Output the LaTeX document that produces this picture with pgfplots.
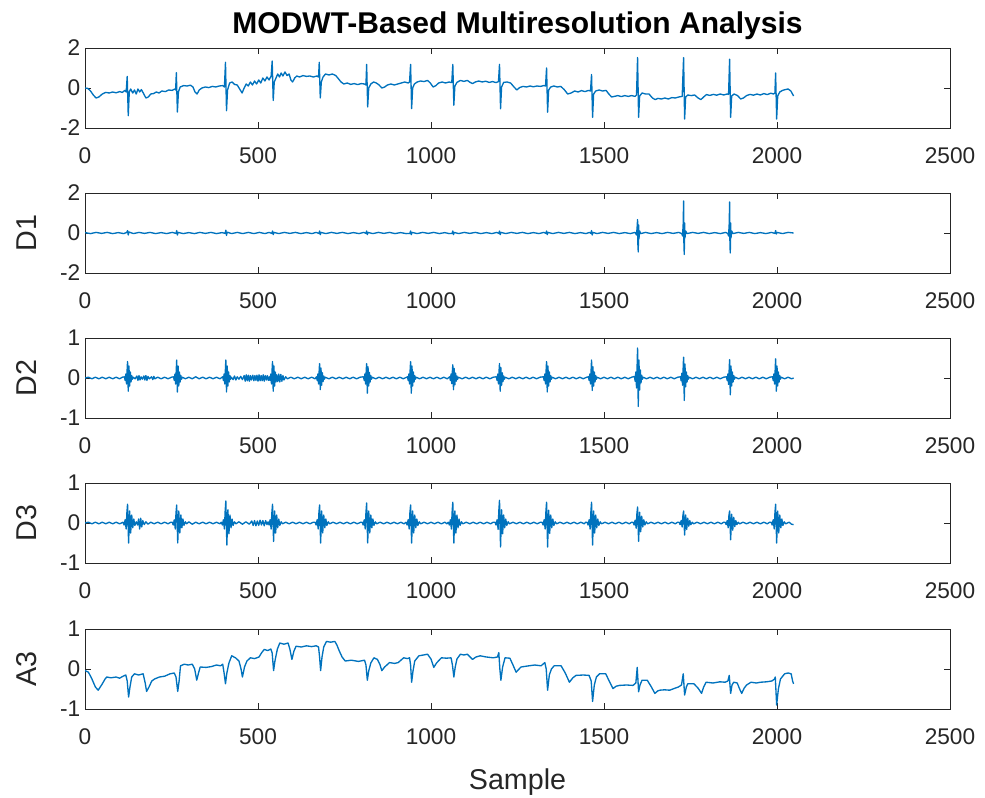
\documentclass[border=0pt]{standalone}
\usepackage{pgfplots}
\pgfplotsset{compat=1.18}
\usepackage{fontspec}
\setmainfont{Liberation Sans}
\definecolor{mblue}{rgb}{0,0.447,0.741}
\definecolor{mgray}{rgb}{0.15,0.15,0.15}
\pgfplotsset{
  mstyle/.style={
    scale only axis, width=648.75pt, height=60pt,
    xmin=0, xmax=2500, xtick={0,500,1000,1500,2000,2500},
    tick align=inside, tick pos=both, ticklabel pos=left,
    major tick length=4.5pt,
    axis line style={draw=mgray, line width=0.6pt},
    every tick/.style={draw=mgray, line width=0.6pt},
    tick label style={font=\fontsize{17}{17}\selectfont, text=mgray},
    label style={font=\fontsize{21.5}{21.5}\selectfont, text=mgray},
    /pgf/number format/assume math mode=true,
    /pgf/number format/1000 sep={},
    scaled ticks=false,
    xticklabel style={yshift=-11pt},
    ylabel style={at={(axis description cs:-0.068,0.5)}, anchor=center, rotate=0},
    xlabel style={yshift=-11pt},
    anchor=north west,
  },
  mline/.style={color=mblue, line width=1pt, no markers, line join=round},
}
\begin{document}
\begin{tikzpicture}
\useasboundingbox (0,0) rectangle (738.75pt,-598.5pt);
% ---------- Original signal ----------
\begin{axis}[mstyle, at={(63.75pt,-36pt)}, ymin=-2, ymax=2, ytick={-2,0,2},
  title={MODWT-Based Multiresolution Analysis},
  title style={font=\bfseries\fontsize{22.5}{22.5}\selectfont, text=black, yshift=-3pt}]
\addplot[mline] coordinates {
(0,0.0)(8,-0.02)(16,-0.15)(24,-0.35)(32,-0.5)(40,-0.45)(50,-0.3)(60,-0.22)(70,-0.25)(80,-0.2)(90,-0.24)(100,-0.18)(108,-0.22)(115,-0.12)(119,-0.2)(122,0.58)(125,-1.38)(128,-0.2)(132,-0.05)(138,-0.25)(143,-0.1)(148,-0.3)(153,-0.05)(158,-0.2)(163,-0.08)(170,-0.3)(176,-0.5)(183,-0.45)(190,-0.3)(198,-0.28)(206,-0.2)(214,-0.25)(222,-0.15)(232,-0.18)(242,-0.1)(252,-0.12)(260,-0.05)(262,-0.1)(264,0.77)(267,-1.2)(270,-0.2)(275,0.05)(285,0.12)(295,0.1)(305,0.14)(312,0.05)(318,-0.2)(324,-0.3)(330,-0.1)(338,0.0)(348,0.05)(358,0.02)(368,0.08)(378,0.05)(388,0.1)(398,0.12)(403,0.05)(406,1.28)(409,-1.13)(412,-0.1)(418,0.25)(425,0.3)(432,0.18)(440,0.15)(447,-0.05)(454,-0.25)(460,0.0)(466,0.2)(472,0.1)(478,0.3)(484,0.15)(490,0.35)(496,0.2)(502,0.4)(508,0.25)(514,0.5)(520,0.35)(526,0.55)(532,0.4)(538,0.6)(541,1.35)(544,-0.62)(547,0.3)(552,0.5)(557,0.7)(562,0.55)(567,0.75)(572,0.6)(578,0.8)(584,0.62)(590,0.7)(595,0.4)(600,0.3)(606,0.5)(612,0.6)(620,0.55)(630,0.62)(640,0.58)(650,0.6)(660,0.55)(670,0.6)(675,0.55)(677,1.28)(680,-0.5)(683,0.3)(688,0.55)(695,0.7)(705,0.65)(715,0.7)(725,0.62)(733,0.45)(740,0.3)(748,0.2)(758,0.25)(768,0.18)(778,0.22)(788,0.17)(798,0.22)(808,0.2)(812,0.15)(814,1.18)(817,-0.95)(820,0.0)(826,0.2)(834,0.3)(842,0.25)(850,0.15)(858,0.0)(866,0.05)(874,0.15)(884,0.2)(894,0.15)(904,0.2)(914,0.25)(924,0.3)(934,0.25)(938,0.3)(941,1.18)(944,-1.03)(947,0.0)(952,0.2)(960,0.3)(970,0.35)(980,0.32)(990,0.38)(998,0.25)(1006,0.05)(1014,0.12)(1022,0.25)(1032,0.3)(1042,0.25)(1052,0.3)(1060,0.27)(1063,1.18)(1066,-0.86)(1069,0.1)(1075,0.28)(1085,0.38)(1095,0.33)(1105,0.38)(1113,0.28)(1120,0.22)(1128,0.3)(1138,0.35)(1148,0.3)(1158,0.34)(1168,0.28)(1178,0.32)(1188,0.27)(1195,0.32)(1198,1.18)(1201,-1.04)(1204,0.05)(1210,0.28)(1220,0.3)(1230,0.25)(1240,0.05)(1248,-0.1)(1256,0.02)(1266,0.08)(1276,0.05)(1286,0.1)(1296,0.06)(1306,0.1)(1316,0.08)(1326,0.12)(1331,0.1)(1334,1.0)(1337,-1.21)(1340,-0.1)(1346,0.05)(1355,0.1)(1365,0.05)(1375,0.08)(1385,-0.08)(1395,-0.3)(1405,-0.25)(1415,-0.15)(1425,-0.2)(1435,-0.13)(1445,-0.18)(1455,-0.12)(1461,-0.15)(1464,0.67)(1467,-1.47)(1470,-0.3)(1476,-0.15)(1486,-0.1)(1496,-0.15)(1506,-0.12)(1514,-0.3)(1522,-0.45)(1530,-0.42)(1540,-0.38)(1550,-0.43)(1560,-0.38)(1570,-0.42)(1580,-0.38)(1590,-0.42)(1594,-0.35)(1597,1.52)(1600,-1.47)(1603,-0.4)(1610,-0.25)(1620,-0.3)(1630,-0.3)(1640,-0.5)(1648,-0.58)(1656,-0.52)(1666,-0.55)(1676,-0.5)(1686,-0.55)(1696,-0.48)(1706,-0.5)(1716,-0.45)(1726,-0.42)(1730,1.52)(1733,-1.55)(1736,-0.45)(1742,-0.35)(1752,-0.38)(1762,-0.35)(1772,-0.5)(1780,-0.58)(1788,-0.45)(1796,-0.33)(1806,-0.37)(1816,-0.32)(1826,-0.36)(1836,-0.3)(1846,-0.35)(1856,-0.3)(1860,-0.32)(1863,1.44)(1866,-1.47)(1869,-0.4)(1876,-0.3)(1886,-0.38)(1895,-0.55)(1903,-0.5)(1912,-0.38)(1922,-0.32)(1932,-0.36)(1942,-0.3)(1952,-0.35)(1962,-0.28)(1972,-0.33)(1982,-0.26)(1990,-0.3)(1994,-0.25)(1996,0.75)(1999,-1.55)(2002,-0.4)(2008,-0.2)(2016,-0.12)(2024,-0.08)(2032,-0.05)(2040,-0.15)(2048,-0.4)
};
\end{axis}
% ---------- D1 ----------
\begin{axis}[mstyle, at={(63.75pt,-144.75pt)}, ymin=-2, ymax=2, ytick={-2,0,2}, ylabel={D1}]
\addplot[mline] coordinates {
(0,0.02)(16,-0.03)(32,0.03)(48,-0.02)(64,0.03)(80,-0.03)(96,0.02)(112,-0.03)(121,0.03)(123,0.12)(125,-0.1)(127,0.05)(140,-0.03)(156,0.03)(172,-0.02)(188,0.03)(204,-0.03)(220,0.02)(236,-0.03)(252,0.03)(263,-0.02)(265,0.12)(267,-0.1)(269,0.03)(284,-0.03)(300,0.02)(316,-0.03)(332,0.03)(348,-0.02)(364,0.03)(380,-0.03)(396,0.02)(405,-0.02)(407,0.14)(409,-0.12)(411,0.04)(424,-0.03)(440,0.03)(456,-0.03)(472,0.03)(488,-0.03)(504,0.03)(520,-0.03)(532,0.03)(540,-0.02)(542,0.1)(544,-0.08)(546,0.03)(560,-0.03)(576,0.03)(592,-0.02)(608,0.03)(624,-0.03)(640,0.02)(656,-0.03)(668,0.03)(676,-0.02)(678,0.1)(680,-0.08)(682,0.03)(696,-0.03)(712,0.03)(728,-0.02)(744,0.03)(760,-0.03)(776,0.02)(792,-0.03)(806,0.03)(812,-0.02)(814,0.1)(816,-0.08)(818,0.03)(832,-0.03)(848,0.03)(864,-0.02)(880,0.03)(896,-0.03)(912,0.02)(928,-0.03)(939,-0.02)(941,0.1)(943,-0.08)(945,0.03)(960,-0.03)(976,0.03)(992,-0.02)(1008,0.03)(1024,-0.03)(1040,0.02)(1052,-0.03)(1061,-0.02)(1063,0.1)(1065,-0.08)(1067,0.03)(1080,-0.03)(1096,0.03)(1112,-0.02)(1128,0.03)(1144,-0.03)(1160,0.02)(1176,-0.03)(1190,0.03)(1196,-0.02)(1198,0.1)(1200,-0.08)(1202,0.03)(1216,-0.03)(1232,0.03)(1248,-0.02)(1264,0.03)(1280,-0.03)(1296,0.02)(1312,-0.03)(1326,0.03)(1332,-0.02)(1334,0.1)(1336,-0.08)(1338,0.03)(1352,-0.03)(1368,0.03)(1384,-0.02)(1400,0.03)(1416,-0.03)(1432,0.02)(1448,-0.03)(1458,0.03)(1462,-0.02)(1464,0.12)(1466,-0.1)(1468,0.03)(1480,-0.03)(1496,0.03)(1512,-0.02)(1528,0.03)(1544,-0.03)(1560,0.02)(1576,-0.03)(1590,0.03)(1594,-0.1)(1596,0.35)(1597,0.67)(1598,-0.6)(1599,-0.95)(1600,0.4)(1601,-0.3)(1603,0.1)(1606,-0.03)(1620,0.03)(1636,-0.03)(1652,0.02)(1668,-0.03)(1684,0.03)(1700,-0.02)(1716,0.03)(1725,-0.03)(1727,-0.15)(1729,0.5)(1730,1.6)(1731,-0.6)(1732,-1.07)(1733,0.5)(1734,-0.25)(1736,0.1)(1740,-0.03)(1756,0.03)(1772,-0.02)(1788,0.03)(1804,-0.03)(1820,0.02)(1836,-0.03)(1852,0.03)(1858,-0.03)(1860,-0.15)(1862,0.5)(1863,1.55)(1864,-0.6)(1865,-1.0)(1866,0.5)(1867,-0.25)(1869,0.1)(1873,-0.03)(1888,0.03)(1904,-0.02)(1920,0.03)(1936,-0.03)(1952,0.02)(1968,-0.03)(1984,0.03)(1994,-0.02)(1996,0.12)(1998,-0.05)(2000,0.03)(2016,-0.03)(2032,0.03)(2048,0.0)
};
\end{axis}
% ---------- D2 ----------
\begin{axis}[mstyle, at={(63.75pt,-253.5pt)}, ymin=-1, ymax=1, ytick={-1,0,1}, ylabel={D2}]
\addplot[mline] coordinates {
(0,0.0)(10,0.02)(20,-0.02)(30,0.02)(40,-0.02)(50,0.02)(60,-0.02)(70,0.02)(80,-0.02)(90,0.02)(100,-0.02)(108,0.02)
(114,0.03)(116,-0.06)(118,0.1)(120,-0.15)(122,0.25)(123,0.41)(125,-0.33)(127,0.3)(129,-0.2)(131,0.15)(133,-0.1)(135,0.06)(137,-0.03)(139,0.02)
(145,-0.02)(150,0.05)(153,-0.06)(156,0.06)(159,-0.05)(162,0.03)(166,-0.03)(170,0.05)(173,-0.05)(176,0.06)(179,-0.06)(182,0.04)(186,-0.02)(192,0.03)(196,-0.04)(199,0.04)(202,-0.02)(210,0.02)(220,-0.02)(230,0.02)(240,-0.02)(250,0.02)
(256,0.03)(258,-0.06)(260,0.1)(262,-0.15)(264,0.25)(265,0.45)(267,-0.35)(269,0.3)(271,-0.2)(273,0.15)(275,-0.1)(277,0.06)(279,-0.03)(281,0.02)
(290,-0.02)(300,0.02)(310,-0.02)(320,0.03)(330,-0.02)(340,0.02)(350,-0.02)(360,0.02)(370,-0.02)(380,0.02)(390,-0.02)
(398,0.03)(400,-0.06)(402,0.1)(404,-0.15)(406,0.25)(407,0.45)(409,-0.35)(411,0.3)(413,-0.2)(415,0.15)(417,-0.1)(419,0.06)(421,-0.03)(423,0.02)
(428,-0.04)(432,0.05)(436,-0.05)(440,0.03)(445,-0.03)(450,0.04)(455,-0.04)(460,0.06)(463,-0.08)(466,0.08)(469,-0.07)(472,0.07)(475,-0.08)(478,0.06)(481,-0.05)(485,0.07)(488,-0.07)(491,0.06)(494,-0.06)(497,0.07)(500,-0.08)(503,0.08)(506,-0.07)(509,0.06)(512,-0.07)(515,0.08)(518,-0.08)(521,0.06)(524,-0.05)(527,0.06)(530,-0.06)
(533,0.03)(535,-0.06)(537,0.1)(539,-0.15)(541,0.25)(542,0.41)(544,-0.33)(546,0.3)(548,-0.2)(550,0.15)(552,-0.1)(554,0.08)(557,-0.09)(560,0.1)(563,-0.1)(566,0.09)(569,-0.08)(572,0.06)(575,-0.05)(580,0.03)
(585,-0.02)(595,0.02)(605,-0.02)(615,0.02)(625,-0.02)(635,0.02)(645,-0.02)(655,0.02)(665,-0.02)
(669,0.03)(671,-0.06)(673,0.1)(675,-0.15)(677,0.22)(678,0.36)(680,-0.29)(682,0.25)(684,-0.18)(686,0.13)(688,-0.09)(690,0.05)(692,-0.03)(694,0.02)
(705,-0.02)(715,0.02)(725,-0.02)(735,0.02)(745,-0.02)(755,0.02)(765,-0.02)(775,0.02)(785,-0.02)(795,0.02)
(805,0.03)(807,-0.06)(809,0.1)(811,-0.15)(813,0.22)(814,0.36)(816,-0.38)(818,0.28)(820,-0.2)(822,0.14)(824,-0.1)(826,0.06)(828,-0.03)(830,0.02)
(840,-0.02)(850,0.02)(860,-0.02)(870,0.02)(880,-0.02)(890,0.02)(900,-0.02)(910,0.02)(920,-0.02)
(932,0.03)(934,-0.06)(936,0.1)(938,-0.15)(940,0.25)(941,0.41)(943,-0.38)(945,0.3)(947,-0.2)(949,0.15)(951,-0.1)(953,0.06)(955,-0.03)(957,0.02)
(967,-0.02)(977,0.02)(987,-0.02)(997,0.02)(1007,-0.02)(1017,0.02)(1027,-0.02)(1037,0.02)(1047,-0.02)
(1054,0.03)(1056,-0.06)(1058,0.1)(1060,-0.14)(1062,0.2)(1063,0.33)(1065,-0.29)(1067,0.24)(1069,-0.17)(1071,0.12)(1073,-0.08)(1075,0.05)(1077,-0.03)(1079,0.02)
(1090,-0.02)(1100,0.02)(1110,-0.02)(1120,0.02)(1130,-0.02)(1140,0.02)(1150,-0.02)(1160,0.02)(1170,-0.02)(1180,0.02)
(1189,0.03)(1191,-0.06)(1193,0.1)(1195,-0.15)(1197,0.22)(1198,0.36)(1200,-0.33)(1202,0.26)(1204,-0.18)(1206,0.13)(1208,-0.09)(1210,0.05)(1212,-0.03)(1214,0.02)
(1225,-0.02)(1235,0.02)(1245,-0.02)(1255,0.02)(1265,-0.02)(1275,0.02)(1285,-0.02)(1295,0.02)(1305,-0.02)(1315,0.02)
(1325,0.03)(1327,-0.06)(1329,0.1)(1331,-0.15)(1333,0.25)(1334,0.41)(1336,-0.35)(1338,0.3)(1340,-0.2)(1342,0.15)(1344,-0.1)(1346,0.06)(1348,-0.03)(1350,0.02)
(1360,-0.02)(1370,0.02)(1380,-0.02)(1390,0.02)(1400,-0.02)(1410,0.02)(1420,-0.02)(1430,0.02)(1440,-0.02)(1450,0.02)
(1455,0.03)(1457,-0.06)(1459,0.1)(1461,-0.15)(1463,0.25)(1464,0.45)(1466,-0.31)(1468,0.28)(1470,-0.2)(1472,0.15)(1474,-0.1)(1476,0.06)(1478,-0.03)(1480,0.02)
(1490,-0.02)(1500,0.02)(1510,-0.02)(1520,0.02)(1530,-0.02)(1540,0.02)(1550,-0.02)(1560,0.02)(1570,-0.02)(1580,0.02)
(1588,0.04)(1590,-0.08)(1592,0.15)(1594,-0.25)(1596,0.4)(1597,0.75)(1599,-0.71)(1601,0.45)(1603,-0.3)(1605,0.2)(1607,-0.12)(1609,0.07)(1611,-0.03)(1613,0.02)
(1623,-0.02)(1633,0.02)(1643,-0.02)(1653,0.02)(1663,-0.02)(1673,0.02)(1683,-0.02)(1693,0.02)(1703,-0.02)(1713,0.02)
(1721,0.03)(1723,-0.07)(1725,0.12)(1727,-0.18)(1729,0.3)(1730,0.52)(1732,-0.56)(1734,0.35)(1736,-0.22)(1738,0.15)(1740,-0.1)(1742,0.06)(1744,-0.03)(1746,0.02)
(1756,-0.02)(1766,0.02)(1776,-0.02)(1786,0.02)(1796,-0.02)(1806,0.02)(1816,-0.02)(1826,0.02)(1836,-0.02)(1846,0.02)
(1854,0.03)(1856,-0.06)(1858,0.1)(1860,-0.16)(1862,0.26)(1863,0.46)(1865,-0.42)(1867,0.3)(1869,-0.2)(1871,0.15)(1873,-0.1)(1875,0.06)(1877,-0.03)(1879,0.02)
(1889,-0.02)(1899,0.02)(1909,-0.02)(1919,0.02)(1929,-0.02)(1939,0.02)(1949,-0.02)(1959,0.02)(1969,-0.02)(1979,0.02)
(1987,0.03)(1989,-0.06)(1991,0.1)(1993,-0.15)(1995,0.26)(1996,0.48)(1998,-0.33)(2000,0.3)(2002,-0.2)(2004,0.15)(2006,-0.1)(2008,0.06)(2010,-0.03)(2012,0.02)
(2022,-0.02)(2032,0.02)(2042,-0.02)(2048,0.0)
};
\end{axis}
% ---------- D3 ----------
\begin{axis}[mstyle, at={(63.75pt,-362.25pt)}, ymin=-1, ymax=1, ytick={-1,0,1}, ylabel={D3}]
\addplot[mline] coordinates {
(0,0.0)(10,0.02)(20,-0.02)(30,0.02)(40,-0.02)(50,0.02)(60,-0.02)(70,0.02)(80,-0.02)(90,0.02)(100,-0.02)
(110,0.02)(113,-0.05)(116,0.08)(119,-0.15)(121,0.25)(123,0.47)(126,-0.5)(129,0.3)(132,-0.25)(135,0.2)(138,-0.12)(141,0.1)(144,-0.06)(148,0.03)
(152,-0.05)(155,0.1)(158,-0.15)(161,0.12)(164,-0.1)(167,0.06)(171,-0.04)(176,0.03)(182,-0.03)(190,0.02)(200,-0.02)(210,0.02)(220,-0.02)(230,0.02)(240,-0.02)(248,0.02)
(252,0.02)(255,-0.05)(258,0.08)(261,-0.15)(263,0.25)(265,0.45)(268,-0.5)(271,0.3)(274,-0.25)(277,0.2)(280,-0.12)(283,0.1)(286,-0.06)(290,0.03)(294,-0.02)
(300,0.03)(310,-0.03)(320,0.02)(330,-0.02)(340,0.02)(350,-0.02)(360,0.02)(370,-0.02)(380,0.02)(390,-0.02)
(394,0.02)(397,-0.05)(400,0.08)(403,-0.15)(405,0.28)(407,0.55)(410,-0.55)(413,0.33)(416,-0.27)(419,0.2)(422,-0.12)(425,0.1)(428,-0.06)(432,0.03)(436,-0.02)
(445,0.03)(455,-0.03)(465,0.03)(475,-0.03)(482,0.05)(486,-0.06)(490,0.06)(494,-0.07)(498,0.05)(502,-0.06)(506,0.07)(510,-0.05)(514,0.06)(518,-0.07)(522,0.06)(526,-0.04)
(529,0.03)(532,-0.05)(535,0.08)(538,-0.15)(540,0.25)(542,0.47)(545,-0.46)(548,0.3)(551,-0.25)(554,0.2)(557,-0.12)(560,0.1)(563,-0.06)(567,0.03)(571,-0.02)
(580,0.02)(590,-0.02)(600,0.02)(610,-0.02)(620,0.02)(630,-0.02)(640,0.02)(650,-0.02)(660,0.02)
(665,0.02)(668,-0.05)(671,0.08)(674,-0.15)(676,0.25)(678,0.45)(681,-0.5)(684,0.3)(687,-0.25)(690,0.2)(693,-0.12)(696,0.1)(699,-0.06)(703,0.03)(707,-0.02)
(717,0.02)(727,-0.02)(737,0.02)(747,-0.02)(757,0.02)(767,-0.02)(777,0.02)(787,-0.02)(797,0.02)
(801,0.02)(804,-0.05)(807,0.08)(810,-0.15)(812,0.26)(814,0.5)(817,-0.5)(820,0.3)(823,-0.25)(826,0.2)(829,-0.12)(832,0.1)(835,-0.06)(839,0.03)(843,-0.02)
(853,0.02)(863,-0.02)(873,0.02)(883,-0.02)(893,0.02)(903,-0.02)(913,0.02)(922,-0.02)
(928,0.02)(931,-0.05)(934,0.08)(937,-0.15)(939,0.25)(941,0.45)(944,-0.5)(947,0.3)(950,-0.25)(953,0.2)(956,-0.12)(959,0.1)(962,-0.06)(966,0.03)(970,-0.02)
(980,0.02)(990,-0.02)(1000,0.02)(1010,-0.02)(1020,0.02)(1030,-0.02)(1040,0.02)(1046,-0.02)
(1050,0.02)(1053,-0.05)(1056,0.08)(1059,-0.15)(1061,0.27)(1063,0.52)(1066,-0.5)(1069,0.3)(1072,-0.25)(1075,0.2)(1078,-0.12)(1081,0.1)(1084,-0.06)(1088,0.03)(1092,-0.02)
(1102,0.02)(1112,-0.02)(1122,0.02)(1132,-0.02)(1142,0.02)(1152,-0.02)(1162,0.02)(1172,-0.02)(1180,0.02)
(1185,0.02)(1188,-0.05)(1191,0.08)(1194,-0.16)(1196,0.3)(1198,0.57)(1201,-0.6)(1204,0.33)(1207,-0.27)(1210,0.2)(1213,-0.12)(1216,0.1)(1219,-0.06)(1223,0.03)(1227,-0.02)
(1237,0.02)(1247,-0.02)(1257,0.02)(1267,-0.02)(1277,0.02)(1287,-0.02)(1297,0.02)(1307,-0.02)(1316,0.02)
(1321,0.02)(1324,-0.05)(1327,0.08)(1330,-0.15)(1332,0.27)(1334,0.52)(1337,-0.6)(1340,0.32)(1343,-0.26)(1346,0.2)(1349,-0.12)(1352,0.1)(1355,-0.06)(1359,0.03)(1363,-0.02)
(1373,0.02)(1383,-0.02)(1393,0.02)(1403,-0.02)(1413,0.02)(1423,-0.02)(1433,0.02)(1443,-0.02)(1447,0.02)
(1451,0.02)(1454,-0.05)(1457,0.08)(1460,-0.15)(1462,0.27)(1464,0.52)(1467,-0.55)(1470,0.3)(1473,-0.25)(1476,0.2)(1479,-0.12)(1482,0.1)(1485,-0.06)(1489,0.03)(1493,-0.02)
(1503,0.02)(1513,-0.02)(1523,0.02)(1533,-0.02)(1543,0.02)(1553,-0.02)(1563,0.02)(1573,-0.02)(1580,0.02)
(1584,0.02)(1587,-0.05)(1590,0.07)(1593,-0.13)(1595,0.22)(1597,0.4)(1600,-0.46)(1603,0.27)(1606,-0.22)(1609,0.17)(1612,-0.1)(1615,0.08)(1618,-0.05)(1622,0.03)(1626,-0.02)
(1636,0.02)(1646,-0.02)(1656,0.02)(1666,-0.02)(1676,0.02)(1686,-0.02)(1696,0.02)(1706,-0.02)(1713,0.02)
(1717,0.02)(1720,-0.04)(1723,0.06)(1726,-0.1)(1728,0.18)(1730,0.3)(1733,-0.3)(1736,0.2)(1739,-0.16)(1742,0.12)(1745,-0.08)(1748,0.06)(1751,-0.04)(1755,0.02)(1759,-0.02)
(1769,0.02)(1779,-0.02)(1789,0.02)(1799,-0.02)(1809,0.02)(1819,-0.02)(1829,0.02)(1839,-0.02)(1846,0.02)
(1850,0.02)(1853,-0.04)(1856,0.06)(1859,-0.12)(1861,0.18)(1863,0.3)(1866,-0.42)(1869,0.22)(1872,-0.18)(1875,0.14)(1878,-0.09)(1881,0.06)(1884,-0.04)(1888,0.02)(1892,-0.02)
(1902,0.02)(1912,-0.02)(1922,0.02)(1932,-0.02)(1942,0.02)(1952,-0.02)(1962,0.02)(1972,-0.02)(1979,0.02)
(1983,0.02)(1986,-0.05)(1989,0.08)(1992,-0.15)(1994,0.25)(1996,0.47)(1999,-0.5)(2002,0.3)(2005,-0.25)(2008,0.2)(2011,-0.12)(2014,0.1)(2017,-0.06)(2021,0.03)(2025,-0.02)
(2035,0.02)(2042,-0.03)(2048,-0.04)
};
\end{axis}
% ---------- A3 ----------
\begin{axis}[mstyle, at={(63.75pt,-471.75pt)}, ymin=-1, ymax=1, ytick={-1,0,1}, ylabel={A3}, xlabel={Sample}]
\addplot[mline] coordinates {
(0,-0.04)(10,-0.08)(20,-0.25)(30,-0.45)(38,-0.53)(48,-0.4)(58,-0.25)(63,-0.2)(75,-0.22)(90,-0.2)(100,-0.23)(110,-0.18)(118,-0.15)(122,-0.3)(126,-0.7)(130,-0.45)(135,-0.2)(143,-0.12)(155,-0.15)(168,-0.12)(174,-0.35)(178,-0.56)(185,-0.45)(193,-0.3)(201,-0.25)(215,-0.2)(230,-0.18)(246,-0.12)(258,-0.1)(263,-0.2)(268,-0.56)(272,-0.3)(276,0.08)(287,0.12)(298,0.1)(310,0.12)(317,0.0)(323,-0.28)(328,-0.1)(333,0.05)(350,0.04)(365,0.06)(380,0.1)(392,0.08)(398,0.12)(402,-0.1)(406,-0.37)(410,-0.1)(416,0.15)(424,0.33)(435,0.28)(445,0.2)(451,0.0)(455,-0.2)(461,0.05)(468,0.2)(478,0.28)(490,0.26)(503,0.3)(510,0.4)(518,0.49)(528,0.46)(537,0.5)(541,0.4)(545,-0.04)(549,0.2)(556,0.5)(563,0.65)(575,0.62)(587,0.65)(592,0.5)(598,0.24)(604,0.45)(610,0.57)(625,0.55)(640,0.58)(655,0.56)(668,0.58)(675,0.55)(678,0.3)(681,-0.04)(685,0.3)(690,0.55)(698,0.69)(710,0.67)(722,0.69)(728,0.6)(735,0.45)(743,0.3)(752,0.2)(770,0.22)(790,0.19)(808,0.22)(812,0.1)(816,-0.28)(820,-0.05)(826,0.15)(835,0.28)(845,0.24)(852,0.12)(858,-0.04)(866,0.05)(880,0.16)(895,0.14)(905,0.16)(921,0.28)(932,0.26)(938,0.28)(941,0.1)(944,-0.33)(948,-0.05)(953,0.2)(965,0.33)(978,0.35)(990,0.37)(1000,0.25)(1008,0.04)(1016,0.15)(1030,0.28)(1045,0.27)(1058,0.28)(1062,0.1)(1066,-0.2)(1070,0.05)(1075,0.25)(1085,0.37)(1095,0.35)(1105,0.37)(1113,0.3)(1120,0.24)(1130,0.3)(1142,0.33)(1160,0.3)(1180,0.28)(1192,0.3)(1196,0.41)(1199,0.0)(1202,-0.28)(1207,0.05)(1214,0.28)(1228,0.27)(1237,0.1)(1246,-0.08)(1260,0.05)(1283,0.08)(1300,0.1)(1318,0.08)(1329,0.16)(1333,0.0)(1337,-0.53)(1342,-0.15)(1348,0.0)(1356,0.08)(1376,0.08)(1388,-0.1)(1400,-0.33)(1410,-0.22)(1419,-0.16)(1440,-0.15)(1457,-0.16)(1463,-0.3)(1467,-0.81)(1472,-0.4)(1478,-0.2)(1487,-0.12)(1505,-0.12)(1515,-0.3)(1526,-0.49)(1535,-0.43)(1545,-0.41)(1565,-0.4)(1584,-0.41)(1592,-0.35)(1596,0.04)(1600,-0.57)(1604,-0.4)(1610,-0.28)(1625,-0.28)(1637,-0.45)(1647,-0.61)(1655,-0.55)(1661,-0.53)(1675,-0.52)(1690,-0.53)(1705,-0.48)(1715,-0.45)(1724,-0.4)(1729,-0.12)(1733,-0.65)(1738,-0.45)(1742,-0.37)(1760,-0.37)(1772,-0.48)(1782,-0.61)(1788,-0.45)(1795,-0.33)(1815,-0.35)(1835,-0.32)(1850,-0.33)(1858,-0.3)(1862,-0.16)(1866,-0.61)(1870,-0.4)(1875,-0.33)(1885,-0.35)(1892,-0.5)(1898,-0.61)(1905,-0.48)(1912,-0.4)(1925,-0.33)(1940,-0.35)(1953,-0.33)(1970,-0.32)(1985,-0.3)(1993,-0.25)(1995,-0.2)(1999,-0.9)(2004,-0.5)(2010,-0.25)(2022,-0.12)(2032,-0.1)(2041,-0.12)(2045,-0.3)(2048,-0.37)
};
\end{axis}
\end{tikzpicture}
\end{document}
